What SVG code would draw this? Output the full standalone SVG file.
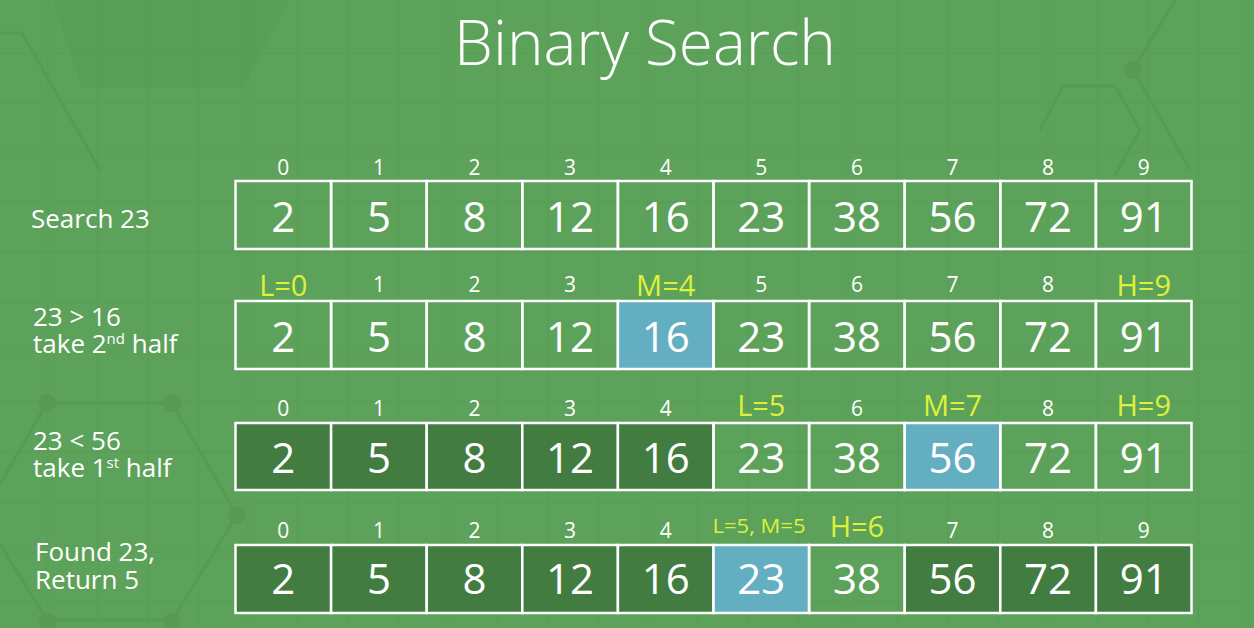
<svg xmlns="http://www.w3.org/2000/svg" width="1254" height="628" viewBox="0 0 1254 628">
<style>
.bg{fill:#5da25a}
.grid{stroke:#559a52;stroke-width:1.5;fill:none}
.hex{stroke:#569b53;stroke-width:3;fill:none}
.dot{fill:#569a53}
.cell{fill:none;stroke:#fff;stroke-width:2.5}
.dark{fill:#427c41}
.blue{fill:#63afc1}
.num{font-family:"Open Sans","DejaVu Sans",sans-serif;font-size:42px;fill:#fff;text-anchor:middle}
.idx{font-family:"Open Sans","DejaVu Sans",sans-serif;font-size:21px;fill:#fff;text-anchor:middle}
.ptr{font-family:"Open Sans","DejaVu Sans",sans-serif;font-size:29px;fill:#def03a;text-anchor:middle}
.ptrs{font-family:"Open Sans","DejaVu Sans",sans-serif;font-size:20px;fill:#def03a;text-anchor:middle}
.lbl{font-family:"Open Sans","DejaVu Sans",sans-serif;font-size:26px;fill:#fff}
.sup{font-size:15px}
.title{font-family:"Open Sans","DejaVu Sans",sans-serif;font-size:62px;font-weight:300;fill:#fff;text-anchor:middle}
</style>
<rect class="bg" x="0" y="0" width="1254" height="628"/>
<g id="background">
<path class="grid" d="M48 0V628M98 0V628M148 0V628M198 0V628M248 0V628M298 0V628M348 0V628M398 0V628M448 0V628M498 0V628M548 0V628M598 0V628M648 0V628M698 0V628M748 0V628M798 0V628M848 0V628M898 0V628M948 0V628M998 0V628M1048 0V628M1098 0V628M1148 0V628M1198 0V628M1248 0V628M0 53H1254M0 102H1254M0 152H1254M0 202H1254M0 252H1254M0 302H1254M0 352H1254M0 402H1254M0 452H1254M0 502H1254M0 552H1254M0 602H1254" opacity="0.5"/>
<path d="M53 0H290L243 88H82Z" fill="#579c54" opacity="0.7"/>
<path class="hex" d="M0 33H22L100 170"/>
<path class="hex" d="M47 403H172L237 515L172 620H47L-18 515Z"/>
<path class="hex" d="M1133 70L1175 0M1133 70L1190 170M1063 86H1115L1140 130L1115 175M1063 86L1040 130"/>
<circle class="dot" cx="47" cy="403" r="9"/>
<circle class="dot" cx="172" cy="403" r="9"/>
<circle class="dot" cx="237" cy="515" r="9"/>
<circle class="dot" cx="47" cy="622" r="9"/>
<circle class="dot" cx="172" cy="622" r="9"/>
<circle class="dot" cx="1133" cy="70" r="9"/>
</g>
<g id="title"><text class="title" x="645" y="65">Binary Search</text></g>
<g id="labels">
<text class="lbl" x="31" y="228">Search 23</text>
<text class="lbl" x="33" y="326">23 &gt; 16<tspan x="33" y="353">take 2</tspan><tspan class="sup" dy="-9">nd</tspan><tspan dy="9"> half</tspan></text>
<text class="lbl" x="33" y="450">23 &lt; 56<tspan x="33" y="477">take 1</tspan><tspan class="sup" dy="-9">st</tspan><tspan dy="9"> half</tspan></text>
<text class="lbl" x="35" y="561">Found 23,<tspan x="35" y="589">Return 5</tspan></text>
</g>
<g id="row1">
<rect class="cell" x="235.5" y="181" width="95.6" height="68"/><text class="num" x="283.3" y="232">2</text><text class="idx" x="283.3" y="175">0</text>
<rect class="cell" x="331.1" y="181" width="95.6" height="68"/><text class="num" x="378.9" y="232">5</text><text class="idx" x="378.9" y="175">1</text>
<rect class="cell" x="426.7" y="181" width="95.6" height="68"/><text class="num" x="474.5" y="232">8</text><text class="idx" x="474.5" y="175">2</text>
<rect class="cell" x="522.3" y="181" width="95.6" height="68"/><text class="num" x="570.1" y="232">12</text><text class="idx" x="570.1" y="175">3</text>
<rect class="cell" x="617.9" y="181" width="95.6" height="68"/><text class="num" x="665.7" y="232">16</text><text class="idx" x="665.7" y="175">4</text>
<rect class="cell" x="713.5" y="181" width="95.6" height="68"/><text class="num" x="761.3" y="232">23</text><text class="idx" x="761.3" y="175">5</text>
<rect class="cell" x="809.1" y="181" width="95.6" height="68"/><text class="num" x="856.9" y="232">38</text><text class="idx" x="856.9" y="175">6</text>
<rect class="cell" x="904.7" y="181" width="95.6" height="68"/><text class="num" x="952.5" y="232">56</text><text class="idx" x="952.5" y="175">7</text>
<rect class="cell" x="1000.3" y="181" width="95.6" height="68"/><text class="num" x="1048.1" y="232">72</text><text class="idx" x="1048.1" y="175">8</text>
<rect class="cell" x="1095.9" y="181" width="95.6" height="68"/><text class="num" x="1143.7" y="232">91</text><text class="idx" x="1143.7" y="175">9</text>
</g>
<g id="row2">
<rect class="cell" x="235.5" y="301" width="95.6" height="68"/><text class="num" x="283.3" y="352">2</text><text class="ptr" x="283.3" y="296">L=0</text>
<rect class="cell" x="331.1" y="301" width="95.6" height="68"/><text class="num" x="378.9" y="352">5</text><text class="idx" x="378.9" y="292">1</text>
<rect class="cell" x="426.7" y="301" width="95.6" height="68"/><text class="num" x="474.5" y="352">8</text><text class="idx" x="474.5" y="292">2</text>
<rect class="cell" x="522.3" y="301" width="95.6" height="68"/><text class="num" x="570.1" y="352">12</text><text class="idx" x="570.1" y="292">3</text>
<rect class="cell blue" x="617.9" y="301" width="95.6" height="68"/><text class="num" x="665.7" y="352">16</text><text class="ptr" x="665.7" y="296">M=4</text>
<rect class="cell" x="713.5" y="301" width="95.6" height="68"/><text class="num" x="761.3" y="352">23</text><text class="idx" x="761.3" y="292">5</text>
<rect class="cell" x="809.1" y="301" width="95.6" height="68"/><text class="num" x="856.9" y="352">38</text><text class="idx" x="856.9" y="292">6</text>
<rect class="cell" x="904.7" y="301" width="95.6" height="68"/><text class="num" x="952.5" y="352">56</text><text class="idx" x="952.5" y="292">7</text>
<rect class="cell" x="1000.3" y="301" width="95.6" height="68"/><text class="num" x="1048.1" y="352">72</text><text class="idx" x="1048.1" y="292">8</text>
<rect class="cell" x="1095.9" y="301" width="95.6" height="68"/><text class="num" x="1143.7" y="352">91</text><text class="ptr" x="1143.7" y="296">H=9</text>
</g>
<g id="row3">
<rect class="cell dark" x="235.5" y="423" width="95.6" height="67"/><text class="num" x="283.3" y="473">2</text><text class="idx" x="283.3" y="416">0</text>
<rect class="cell dark" x="331.1" y="423" width="95.6" height="67"/><text class="num" x="378.9" y="473">5</text><text class="idx" x="378.9" y="416">1</text>
<rect class="cell dark" x="426.7" y="423" width="95.6" height="67"/><text class="num" x="474.5" y="473">8</text><text class="idx" x="474.5" y="416">2</text>
<rect class="cell dark" x="522.3" y="423" width="95.6" height="67"/><text class="num" x="570.1" y="473">12</text><text class="idx" x="570.1" y="416">3</text>
<rect class="cell dark" x="617.9" y="423" width="95.6" height="67"/><text class="num" x="665.7" y="473">16</text><text class="idx" x="665.7" y="416">4</text>
<rect class="cell" x="713.5" y="423" width="95.6" height="67"/><text class="num" x="761.3" y="473">23</text><text class="ptr" x="761.3" y="416">L=5</text>
<rect class="cell" x="809.1" y="423" width="95.6" height="67"/><text class="num" x="856.9" y="473">38</text><text class="idx" x="856.9" y="416">6</text>
<rect class="cell blue" x="904.7" y="423" width="95.6" height="67"/><text class="num" x="952.5" y="473">56</text><text class="ptr" x="952.5" y="416">M=7</text>
<rect class="cell" x="1000.3" y="423" width="95.6" height="67"/><text class="num" x="1048.1" y="473">72</text><text class="idx" x="1048.1" y="416">8</text>
<rect class="cell" x="1095.9" y="423" width="95.6" height="67"/><text class="num" x="1143.7" y="473">91</text><text class="ptr" x="1143.7" y="416">H=9</text>
</g>
<g id="row4">
<rect class="cell dark" x="235.5" y="545" width="95.6" height="68"/><text class="num" x="283.3" y="594">2</text><text class="idx" x="283.3" y="538">0</text>
<rect class="cell dark" x="331.1" y="545" width="95.6" height="68"/><text class="num" x="378.9" y="594">5</text><text class="idx" x="378.9" y="538">1</text>
<rect class="cell dark" x="426.7" y="545" width="95.6" height="68"/><text class="num" x="474.5" y="594">8</text><text class="idx" x="474.5" y="538">2</text>
<rect class="cell dark" x="522.3" y="545" width="95.6" height="68"/><text class="num" x="570.1" y="594">12</text><text class="idx" x="570.1" y="538">3</text>
<rect class="cell dark" x="617.9" y="545" width="95.6" height="68"/><text class="num" x="665.7" y="594">16</text><text class="idx" x="665.7" y="538">4</text>
<rect class="cell blue" x="713.5" y="545" width="95.6" height="68"/><text class="num" x="761.3" y="594">23</text><text class="ptrs" x="759" y="533" textLength="93" lengthAdjust="spacingAndGlyphs">L=5, M=5</text>
<rect class="cell" x="809.1" y="545" width="95.6" height="68"/><text class="num" x="856.9" y="594">38</text><text class="ptr" x="856.9" y="537">H=6</text>
<rect class="cell dark" x="904.7" y="545" width="95.6" height="68"/><text class="num" x="952.5" y="594">56</text><text class="idx" x="952.5" y="538">7</text>
<rect class="cell dark" x="1000.3" y="545" width="95.6" height="68"/><text class="num" x="1048.1" y="594">72</text><text class="idx" x="1048.1" y="538">8</text>
<rect class="cell dark" x="1095.9" y="545" width="95.6" height="68"/><text class="num" x="1143.7" y="594">91</text><text class="idx" x="1143.7" y="538">9</text>
</g>
</svg>
